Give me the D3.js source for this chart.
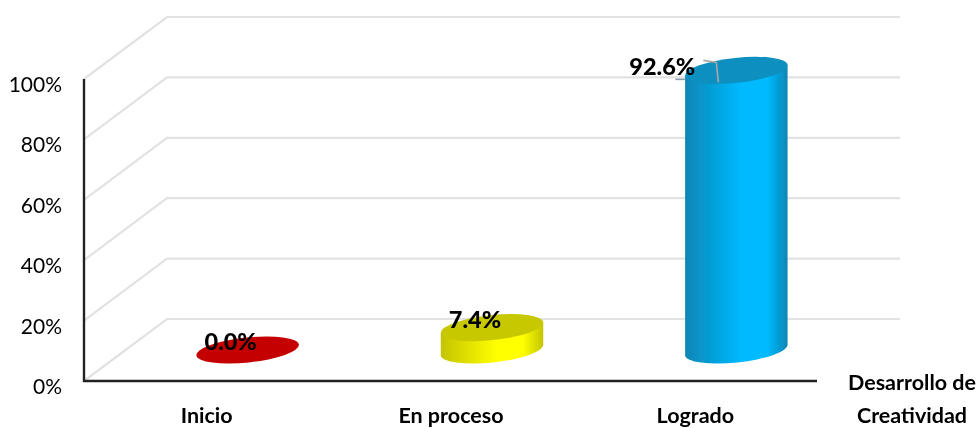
<!DOCTYPE html>
<html><head><meta charset="utf-8">
<script src="https://cdn.jsdelivr.net/npm/d3@7"></script>
<style>html,body{margin:0;padding:0;background:#fff}svg{display:block}text{font-family:Lato,"Open Sans",sans-serif;fill:#000}</style>
</head><body><svg id="c" width="980" height="428"></svg>
<script>
const categories = ["Inicio","En proceso","Logrado"];
const values = [0.0,7.4,92.6];
const valueLabels = ["0.0%","7.4%","92.6%"];
const ticks = [0,20,40,60,80,100];
const axisTitle = ["Desarrollo de","Creatividad"];
const sideColors = [["#a00000","#c00000"],["#c4c400","#ffff00"],["#0a86b4","#00baff"]];
const topColors = ["#c40000","#c8c800","#0b90c0"];

const svg = d3.select("#c"), W=733, H=302, L=84, B=381, DX=83, DY=-62;
const y = d3.scaleLinear().domain([0,100]).range([B,B-H]);
const x = d3.scaleBand().domain(categories).range([L+DX/2,L+DX/2+W]);
const defs = svg.append("defs");
defs.append("filter").attr("id","soft").append("feGaussianBlur").attr("stdDeviation",0.55);
const root = svg.append("g").attr("filter","url(#soft)");

// walls
const grid = root.append("g");
ticks.forEach(t=>{
  grid.append("path").attr("fill","none").attr("stroke","#e2e2e2").attr("stroke-width",2.2)
    .attr("d",d3.line()([[L,y(t)],[L+DX,y(t)+DY],[L+DX+W,y(t)+DY]]));
});
// axes
root.append("path").attr("fill","none").attr("stroke","#222").attr("stroke-width",2.4)
  .attr("d",d3.line()([[L,y(100)],[L,B],[L+W,B]]));

// cylinders
const rx=51.5, ry=12.5, tilt=-6, rad=tilt*Math.PI/180;
const ex=rx*Math.cos(rad), ey=rx*Math.sin(rad);
values.forEach((v,i)=>{
  const cx=x(categories[i])+x.bandwidth()/2;
  const b=y(0)+DY/2, t=y(v)+DY/2;
  const id="g"+i;
  const g=defs.append("linearGradient").attr("id",id);
  [[0,sideColors[i][0]],[.55,sideColors[i][1]],[.8,sideColors[i][1]],[1,sideColors[i][0]]]
    .forEach(s=>g.append("stop").attr("offset",s[0]).attr("stop-color",s[1]));
  if(v>0){
    root.append("path").attr("fill",`url(#${id})`)
      .attr("d",`M${cx-ex},${t-ey}L${cx-ex},${b-ey}A${rx},${ry} ${tilt} 0 0 ${cx+ex},${b+ey}L${cx+ex},${t+ey}Z`);
  }
  root.append("ellipse").attr("transform",`translate(${cx},${t}) rotate(${tilt})`)
    .attr("rx",rx).attr("ry",ry).attr("fill",topColors[i]);
});

// leader of the last label
const lc=x("Logrado")+x.bandwidth()/2, lt=y(92.6)+DY/2;
root.append("path").attr("fill","none").attr("stroke","#8aa0ac").attr("stroke-width",1.6)
  .attr("d",d3.line()([[lc-61,lt+9],[lc-51,lt+9]]));
root.append("path").attr("fill","none").attr("stroke","#a8a8a8").attr("stroke-width",1.6)
  .attr("d",d3.line()([[lc-33,lt-10],[lc-20,lt-8],[lc-18,lt+12]]));

// tick labels
root.append("g").selectAll("text").data(ticks).join("text")
  .attr("x",62).attr("y",d=>y(d)+13).attr("text-anchor","end")
  .attr("font-size",21).text(d=>d+"%");
// category labels
root.append("g").selectAll("text").data(categories).join("text")
  .attr("x",d=>x(d)+x.bandwidth()/2-41).attr("y",423).attr("text-anchor","middle")
  .attr("font-size",21.5).attr("font-weight",700).text(d=>d);
// value labels
root.append("g").selectAll("text").data(values).join("text")
  .attr("x",(d,i)=>x(categories[i])+x.bandwidth()/2-(i==2?74:17))
  .attr("y",(d,i)=>y(d)+DY/2+(i==2?5:0))
  .attr("text-anchor","middle").attr("font-size",23.5).attr("font-weight",900)
  .text((d,i)=>valueLabels[i]);
// axis title
root.append("g").selectAll("text").data(axisTitle).join("text")
  .attr("x",912).attr("y",(d,i)=>390+i*33).attr("text-anchor","middle")
  .attr("font-size",21.5).attr("font-weight",700).text(d=>d);
</script></body></html>
